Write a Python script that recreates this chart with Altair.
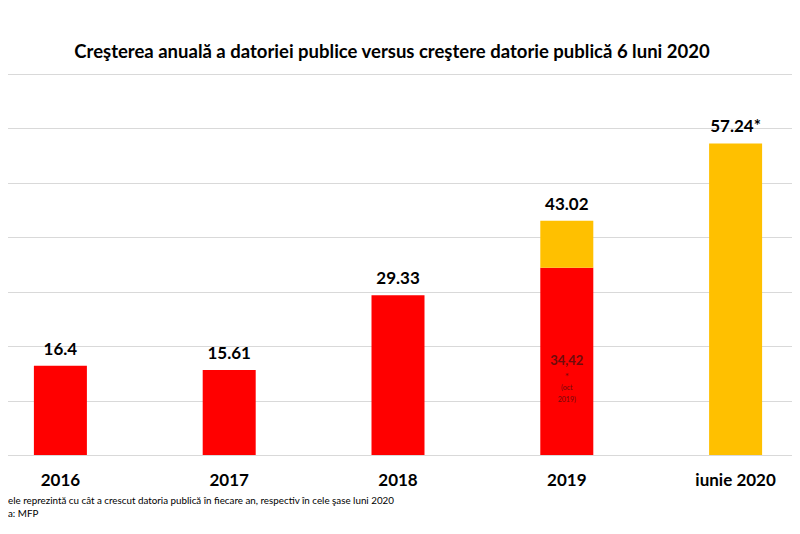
import altair as alt
import pandas as pd

categories = ["2016", "2017", "2018", "2019", "iunie 2020"]
red_values = [16.4, 15.61, 29.33, 34.42, 0.0]
yellow_values = [0.0, 0.0, 0.0, 8.60, 57.24]
totals = [16.4, 15.61, 29.33, 43.02, 57.24]
total_labels = ["16.4", "15.61", "29.33", "43.02", "57.24*"]
inner_cat = ["2019"]
inner_value = [34.42]
inner_main = ["34,42"]
inner_star = ["*"]
inner_sub = ["(oct\n2019)"]
footnote_lines = [
    "ele reprezintă cu cât a  crescut datoria publică în fiecare an, respectiv în cele şase luni 2020",
    "a: MFP",
]
title_text = "Creşterea anuală a datoriei publice versus creştere datorie publică 6 luni 2020"

rows = []
for c, r, yv in zip(categories, red_values, yellow_values):
    if r > 0:
        rows.append({"cat": c, "y0": 0.0, "y1": r, "part": "red"})
    if yv > 0:
        rows.append({"cat": c, "y0": r, "y1": r + yv, "part": "yellow"})
bars_df = pd.DataFrame(rows)
labels_df = pd.DataFrame({"cat": categories, "total": totals, "label": total_labels})
inner_df = pd.DataFrame({"cat": inner_cat, "v": inner_value, "main": inner_main,
                         "star": inner_star, "sub": inner_sub})
foot_df = pd.DataFrame({"text": ["\n".join(footnote_lines)]})

FONT = "Lato"
INNER_COLOR = "#6e0c0c"

xscale = alt.Scale(domain=categories, range=[-32, 812], paddingInner=0.686, paddingOuter=0.343)
yscale = alt.Scale(domain=[0, 70], nice=False)

x_enc = alt.X("cat:N", scale=xscale, sort=categories,
              axis=alt.Axis(title=None, labelFont=FONT, labelFontWeight="bold", labelFontSize=17,
                            labelColor="#000000", labelPadding=17, ticks=False, domain=False,
                            labelAngle=0, grid=False))

bars = alt.Chart(bars_df).mark_bar().encode(
    x=x_enc,
    y=alt.Y("y0:Q", scale=yscale,
            axis=alt.Axis(title=None, labels=False, ticks=False, domain=False,
                          values=[0, 10, 20, 30, 40, 50, 60, 70],
                          grid=True, gridColor="#d9d9d9", gridWidth=1)),
    y2="y1:Q",
    color=alt.Color("part:N", scale=alt.Scale(domain=["red", "yellow"], range=["#ff0000", "#ffc000"]),
                    legend=None),
)

xs = alt.X("cat:N", scale=xscale, sort=categories)

totals_text = alt.Chart(labels_df).mark_text(
    font=FONT, fontWeight="bold", fontSize=17, color="#000000", baseline="bottom", dy=-7
).encode(x=xs, y=alt.Y("total:Q", scale=yscale), text="label:N")

inner_main_text = alt.Chart(inner_df).mark_text(
    font=FONT, fontWeight="bold", fontSize=13, color=INNER_COLOR, baseline="middle", dy=93
).encode(x=xs, y=alt.Y("v:Q", scale=yscale), text="main:N")

inner_star_text = alt.Chart(inner_df).mark_text(
    font=FONT, fontSize=10, color=INNER_COLOR, baseline="middle", dy=109
).encode(x=xs, y=alt.Y("v:Q", scale=yscale), text="star:N")

inner_sub_text = alt.Chart(inner_df).mark_text(
    font=FONT, fontSize=7, color=INNER_COLOR, baseline="middle", dy=120, lineBreak="\n", lineHeight=12
).encode(x=xs, y=alt.Y("v:Q", scale=yscale), text="sub:N")

foot = alt.Chart(foot_df).mark_text(
    font=FONT, fontSize=9.8, color="#000000", align="left", baseline="middle",
    lineBreak="\n", lineHeight=13
).encode(
    x=alt.value(0),
    y=alt.value(427),
    text="text:N",
)

chart = alt.layer(bars, totals_text, inner_main_text, inner_star_text, inner_sub_text, foot).properties(
    width=784, height=381,
    autosize=alt.AutoSizeParams(type="none"),
    padding={"left": 0, "top": 66, "right": 0, "bottom": 79},
    title=alt.TitleParams(title_text, font=FONT, fontSize=18.5, fontWeight="bold", color="#000000",
                          anchor="middle", offset=13, dx=-8),
).configure(background="#ffffff").configure_view(strokeWidth=0)

chart.save("out.html", embed_options={"renderer": "svg", "actions": False})
